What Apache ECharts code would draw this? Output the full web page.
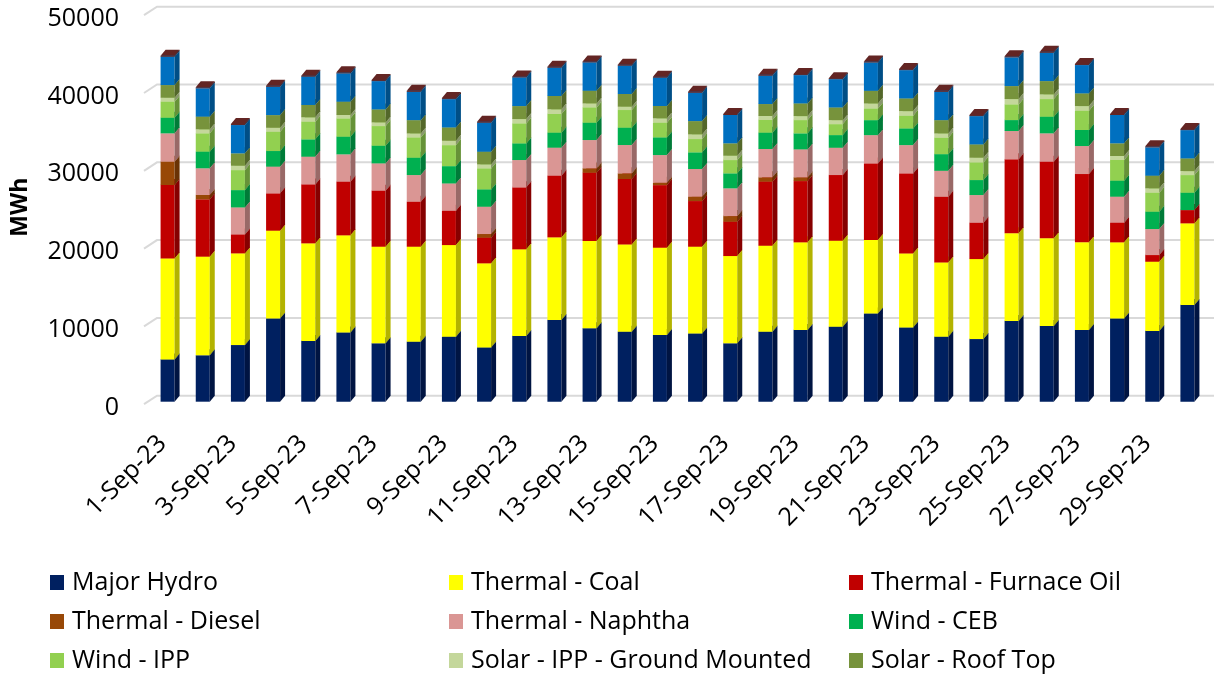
<!DOCTYPE html>
<html>
<head>
<meta charset="utf-8">
<script src="https://cdn.jsdelivr.net/npm/echarts@6/dist/echarts.min.js"></script>
<style>
  html, body { margin: 0; padding: 0; background: #fff; }
  #chart { width: 1214px; height: 677px; }
</style>
</head>
<body>
<div id="chart"></div>
<script>
var days = [];
for (var d = 1; d <= 30; d++) days.push(d + '-Sep-23');

var yTicks = [0, 10000, 20000, 30000, 40000, 50000];

var majorHydro  = [5440, 5960, 7280, 10710, 7800, 8910, 7500, 7710, 8350, 6980, 8440, 10500, 9430, 9000, 8570, 8780, 7500, 9000, 9210, 9640, 11350, 9550, 8350, 8050, 10370, 9730, 9210, 10710, 9080, 12420];
var coal        = [12980, 12680, 11780, 11270, 12550, 12470, 12420, 12210, 11780, 10800, 11140, 10620, 11220, 11220, 11220, 11140, 11220, 11050, 11270, 11050, 9420, 9510, 9550, 10280, 11270, 11270, 11270, 9770, 8910, 10500];
var furnaceOil  = [9430, 7370, 2440, 4800, 7580, 6900, 7200, 5780, 4410, 3300, 7970, 7930, 8780, 8400, 8050, 5870, 4410, 8230, 7880, 8440, 9850, 10280, 8440, 4670, 9510, 9850, 8780, 2530, 860, 1710];
var diesel      = [3000, 560, 0, 0, 0, 0, 0, 0, 0, 470, 0, 0, 560, 730, 300, 560, 730, 560, 470, 0, 0, 0, 0, 0, 0, 0, 0, 0, 0, 0];
var naphtha     = [3640, 3430, 3470, 3430, 3560, 3510, 3510, 3430, 3510, 3510, 3510, 3600, 3640, 3640, 3560, 3560, 3560, 3640, 3600, 3510, 3640, 3640, 3340, 3560, 3640, 3640, 3600, 3340, 3340, 0];
var windCEB     = [2010, 2140, 2230, 2010, 2230, 2270, 2270, 2230, 2230, 2230, 2140, 1930, 2230, 2230, 2270, 2140, 1930, 2100, 2060, 1630, 1930, 2140, 2140, 1930, 1410, 2140, 2060, 2060, 2230, 2230];
var windIPP     = [2060, 2360, 2570, 2480, 2270, 2360, 2530, 2610, 2700, 2700, 2570, 2400, 1970, 2270, 1890, 1710, 1710, 1630, 1710, 1410, 1500, 1630, 2100, 2270, 2010, 2270, 2480, 2660, 2440, 2270];
var solarGround = [510, 510, 560, 510, 560, 430, 470, 510, 560, 510, 560, 600, 510, 430, 560, 600, 560, 510, 510, 510, 640, 600, 560, 600, 690, 600, 600, 510, 560, 510];
var roofTop     = [1630, 1630, 1590, 1630, 1590, 1710, 1670, 1710, 1710, 1630, 1670, 1710, 1630, 1630, 1590, 1710, 1590, 1540, 1630, 1630, 1630, 1630, 1710, 1710, 1670, 1710, 1630, 1630, 1630, 1630];
var miniHydro   = [3640, 3640, 3640, 3640, 3640, 3640, 3640, 3640, 3640, 3730, 3680, 3640, 3640, 3640, 3640, 3640, 3640, 3640, 3640, 3640, 3640, 3640, 3640, 3640, 3690, 3640, 3640, 3640, 3640, 3640];
var biomass     = [130, 130, 130, 130, 130, 130, 130, 130, 130, 130, 130, 130, 130, 130, 130, 130, 130, 130, 130, 130, 130, 130, 130, 130, 130, 130, 130, 130, 130, 130];

// name, values, front colour, side colour
var sources = [
  ['Major Hydro', majorHydro, '#002060', '#001442'],
  ['Thermal - Coal', coal, '#FFFF00', '#B3B300'],
  ['Thermal - Furnace Oil', furnaceOil, '#C00000', '#860000'],
  ['Thermal - Diesel', diesel, '#984807', '#6A3205'],
  ['Thermal - Naphtha', naphtha, '#DA9694', '#996967'],
  ['Wind - CEB', windCEB, '#00B050', '#007B38'],
  ['Wind - IPP', windIPP, '#92D050', '#669238'],
  ['Solar - IPP - Ground Mounted', solarGround, '#C4D79B', '#89976D'],
  ['Solar - Roof Top', roofTop, '#77933C', '#53672A'],
  ['Mini Hydro', miniHydro, '#0070C0', '#004E86'],
  ['Biomass', biomass, '#632523', '#451A18']
];

var legendCols = [
  ['Major Hydro', 'Thermal - Diesel', 'Wind - IPP'],
  ['Thermal - Coal', 'Thermal - Naphtha', 'Solar - IPP - Ground Mounted'],
  ['Thermal - Furnace Oil', 'Wind - CEB', 'Solar - Roof Top']
];

var DX = 5, DY = 6;   // 3d depth offset in px
var FONT = 'Open Sans';

var chart = echarts.init(document.getElementById('chart'));

var series = [];

// back wall grid lines
series.push({
  type: 'custom',
  silent: true,
  z: 1,
  data: yTicks.map(function (v) { return [0, v]; }),
  encode: { x: 0, y: 1 },
  renderItem: function (params, api) {
    var y = api.coord([0, api.value(1)])[1];
    var x0 = params.coordSys.x;
    return {
      type: 'polyline',
      shape: { points: [[x0 - 6, y + 2.5], [x0 + 7, y - DY], [api.getWidth(), y - DY]] },
      style: { stroke: '#D9D9D9', lineWidth: 2, fill: null }
    };
  }
});

var base = days.map(function () { return 0; });
sources.forEach(function (s, k) {
  var data = s[1].map(function (v, i) {
    var lo = base[i];
    base[i] += v;
    return [i, lo, lo + v];
  });
  series.push({
    name: s[0],
    type: 'custom',
    silent: true,
    z: 2,
    itemStyle: { color: s[2] },
    data: data,
    encode: { x: 0, y: [1, 2] },
    renderItem: function (params, api) {
      var lo = api.value(1), hi = api.value(2);
      if (hi - lo <= 0) return null;
      var p0 = api.coord([api.value(0), lo]);
      var p1 = api.coord([api.value(0), hi]);
      var w = 14;
      var xl = p0[0] - w / 2, xr = p0[0] + w / 2;
      var yb = p0[1], yt = p1[1];
      return {
        type: 'group',
        children: [
          { type: 'rect', z2: k, shape: { x: xl, y: yt, width: w, height: yb - yt }, style: { fill: s[2] } },
          { type: 'polygon', z2: k, shape: { points: [[xr, yb], [xr + DX, yb - DY], [xr + DX, yt - DY], [xr, yt]] }, style: { fill: s[3] } },
          { type: 'polygon', z2: k, shape: { points: [[xl, yt], [xr, yt], [xr + DX, yt - DY], [xl + DX, yt - DY]] }, style: { fill: s[2] } }
        ]
      };
    }
  });
});

var legends = legendCols.map(function (col, c) {
  return {
    data: col,
    orient: 'vertical',
    left: [50, 449, 849][c],
    top: 570,
    padding: 0,
    itemGap: 14,
    itemWidth: 14,
    itemHeight: 15,
    icon: 'rect',
    selectedMode: false,
    textStyle: { fontFamily: FONT, fontSize: 25, color: '#000', padding: [0, 0, 0, 3] }
  };
});

chart.setOption({
  animation: false,
  backgroundColor: '#fff',
  legend: legends,
  grid: [
    { left: 150, right: 9, top: 12.7, bottom: 275.3 },
    { left: 145, right: 14, top: 12.7, bottom: 275.3 }
  ],
  xAxis: [
    {
      type: 'category', data: days, gridIndex: 0,
      axisLine: { show: false }, axisTick: { show: false }, axisLabel: { show: false }, splitLine: { show: false }
    },
    {
      type: 'category', data: days, gridIndex: 1,
      axisLine: { show: false }, axisTick: { show: false }, splitLine: { show: false },
      axisLabel: { interval: 1, rotate: 45, margin: 38, fontFamily: FONT, fontSize: 25, color: '#000' }
    }
  ],
  yAxis: [
    {
      type: 'value', gridIndex: 0, min: 0, max: 50000, interval: 10000,
      name: 'MWh', nameLocation: 'middle', nameRotate: 90, nameGap: 118,
      nameTextStyle: { fontFamily: FONT, fontSize: 23, fontWeight: 'bold', color: '#000' },
      axisLine: { show: false }, axisTick: { show: false }, splitLine: { show: false },
      axisLabel: {
        margin: 31,
        formatter: function (v) { return '{t|' + v + '}'; },
        rich: { t: { fontFamily: FONT, fontSize: 25, color: '#000', padding: [12, 0, 0, 0] } }
      }
    },
    { type: 'value', gridIndex: 1, min: 0, max: 1, show: false }
  ],
  series: series
});
</script>
</body>
</html>
